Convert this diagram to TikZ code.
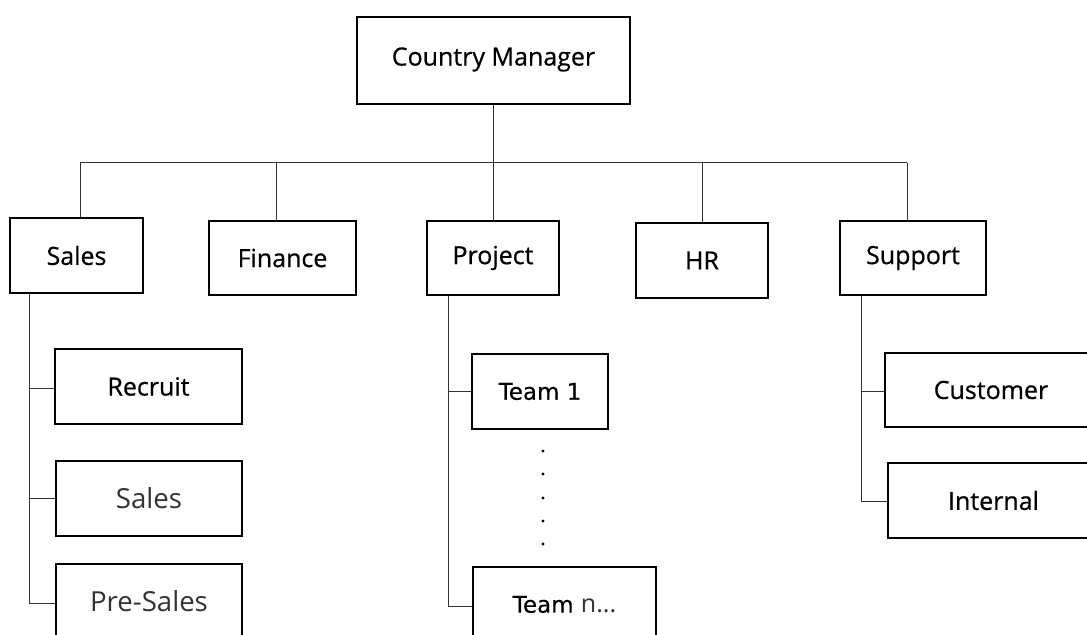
\documentclass[tikz,border=0pt]{standalone}
\usepackage{fontspec}
\setmainfont{Open Sans}
\newfontfamily\medfont{Open Sans}[FakeBold=0.6]
\newfontfamily\tahomalike{DejaVu Sans}[FakeBold=0.3]
\usetikzlibrary{calc}
\tikzset{
  box/.style={draw=black, line width=1pt, fill=white, inner sep=0pt, align=center,
              font=\medfont\fontsize{12.5}{14}\selectfont},
  link/.style={draw=black!80, line width=0.5pt},
  thin/.style={font=\normalfont\fontsize{13.8}{15}\selectfont, text=black!80},
}
\begin{document}
\begin{tikzpicture}[x=0.5pt, y=-0.5pt]
  \useasboundingbox (0,0) rectangle (1087,635);
  \clip (0,0) rectangle (1087,635);

  % top level
  \node[box, minimum width=136.5pt, minimum height=43.5pt, text depth=0pt] (cm) at (493.5,60.5)
        {\raisebox{4pt}{Country Manager}};

  % departments
  \node[box, minimum width=66.5pt, minimum height=37.5pt] (sales)   at (76.5,255.5) {Sales};
  \node[box, minimum width=73.5pt, minimum height=37pt]   (finance) at (282.5,258)  {Finance};
  \node[box, minimum width=66pt,   minimum height=37pt]   (project) at (493,258)    {Project};
  \node[box, minimum width=66pt,   minimum height=37.5pt] (hr)      at (702,260.5)  {HR};
  \node[box, minimum width=73pt,   minimum height=37pt]   (support) at (913,258)    {Support};

  % sales sub-units
  \node[box, minimum width=93.5pt, minimum height=37.5pt] (recruit)  at (148.5,386.5) {Recruit};
  \node[box, thin, minimum width=93pt, minimum height=37.5pt] (sales2)   at (149,498.5)   {Sales};
  \node[box, thin, minimum width=93pt, minimum height=37.5pt] (presales) at (149,601.5)   {Pre-Sales};

  % project teams
  \node[box, minimum width=68pt,   minimum height=37.5pt] (team1) at (540,391.5)
        {\tahomalike\fontsize{11.5}{14}\selectfont Team 1};
  \node[box, minimum width=91.5pt, minimum height=37.5pt] (teamn) at (564.5,604.5)
        {\tahomalike\fontsize{11.5}{14}\selectfont Team {\normalfont\fontsize{12.5}{14}\selectfont\color{black!80}n...}};

  % support sub-units
  \node[box, minimum width=106pt,  minimum height=37pt]   (customer) at (991,390)     {Customer};
  \node[box, minimum width=105.5pt,minimum height=37.5pt] (internal) at (993.5,500.5) {Internal};

  % top-level bus
  \coordinate (bus) at (493.5,163);
  \draw[link] (cm.south) -- (bus);
  \draw[link] ([xshift=1.75pt]sales.north |- bus) -- ([xshift=-3pt]support.north |- bus);
  \draw[link] ([xshift=1.75pt]sales.north) -- ([xshift=1.75pt]sales.north |- bus);
  \draw[link] ([xshift=-3.25pt]finance.north) -- ([xshift=-3.25pt]finance.north |- bus);
  \draw[link] (project.north) -- (project.north |- bus);
  \draw[link] (hr.north) -- (hr.north |- bus);
  \draw[link] ([xshift=-3pt]support.north) -- ([xshift=-3pt]support.north |- bus);

  % sales branch
  \coordinate (st) at ([xshift=10.25pt]sales.south west);
  \draw[link] (st) |- ([yshift=-1.25pt]presales.west);
  \draw[link] ([yshift=-1.25pt]recruit.west) -- ([yshift=-1.25pt]recruit.west -| st);
  \draw[link] (sales2.west) -- (sales2.west -| st);

  % project branch
  \coordinate (pt) at ([xshift=11pt]project.south west);
  \draw[link] (pt) |- ([yshift=-1.25pt]teamn.west);
  \draw[link] (team1.west) -- (team1.west -| pt);
  \foreach \yy in {451,474,498,521,544}
    \fill (543,\yy) circle (0.8pt);

  % support branch
  \coordinate (sp) at ([xshift=11pt]support.south west);
  \draw[link] (sp) |- ([yshift=-0.75pt]internal.west);
  \draw[link] ([yshift=-1pt]customer.west) -- ([yshift=-1pt]customer.west -| sp);
\end{tikzpicture}
\end{document}
